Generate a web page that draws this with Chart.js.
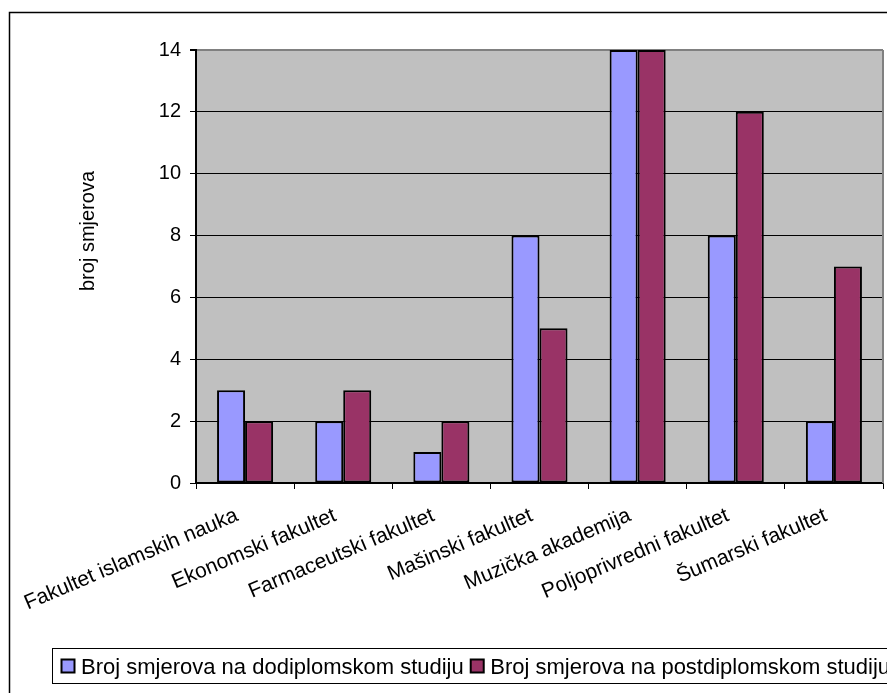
<!DOCTYPE html>
<html>
<head>
<meta charset="utf-8">
<script src="https://cdn.jsdelivr.net/npm/chart.js@4/dist/chart.umd.min.js"></script>
<style>
html,body{margin:0;padding:0;background:#fff;overflow:hidden;}
canvas{display:block;}
</style>
</head>
<body>
<canvas id="c" width="887" height="693"></canvas>
<script>
const categories = [
  "Fakultet islamskih nauka",
  "Ekonomski fakultet",
  "Farmaceutski fakultet",
  "Mašinski fakultet",
  "Muzička akademija",
  "Poljoprivredni fakultet",
  "Šumarski fakultet"
];
const seriesNames = [
  "Broj smjerova na dodiplomskom studiju",
  "Broj smjerova na postdiplomskom studiju"
];
const undergradValues = [3, 2, 1, 8, 14, 8, 2];
const postgradValues = [2, 3, 2, 5, 14, 12, 7];
const yMin = 0, yMax = 14, yStep = 2;
const yTitle = "broj smjerova";

const FONT = "'Liberation Sans', Arial, sans-serif";

const decor = {
  id: 'decor',
  beforeDraw(chart) {
    const ctx = chart.ctx, a = chart.chartArea;
    ctx.save();
    ctx.fillStyle = '#ffffff';
    ctx.fillRect(0, 0, chart.width, chart.height);
    ctx.fillStyle = '#c0c0c0';
    ctx.fillRect(a.left, a.top, a.right - a.left, a.bottom - a.top);
    ctx.restore();
  },
  afterDraw(chart) {
    const ctx = chart.ctx, a = chart.chartArea;
    ctx.save();
    ctx.strokeStyle = '#808080';
    ctx.lineWidth = 2;
    ctx.beginPath();
    ctx.moveTo(a.right, a.top);
    ctx.lineTo(a.right, a.bottom);
    ctx.stroke();
    ctx.strokeStyle = '#000';
    ctx.lineWidth = 1.5;
    ctx.beginPath();
    ctx.moveTo(9.5, chart.height + 5);
    ctx.lineTo(9.5, 12.5);
    ctx.lineTo(chart.width + 5, 12.5);
    ctx.stroke();
    // y axis title
    ctx.save();
    ctx.translate(88, 231);
    ctx.rotate(-Math.PI / 2);
    ctx.font = '20px ' + FONT;
    ctx.fillStyle = '#000';
    ctx.textAlign = 'center';
    ctx.textBaseline = 'middle';
    ctx.fillText(yTitle, 0, 0);
    ctx.restore();
    // legend
    ctx.lineWidth = 1;
    ctx.strokeStyle = '#000';
    ctx.strokeRect(52.5, 648.5, 1000, 35);
    ctx.font = '22px ' + FONT;
    ctx.textBaseline = 'middle';
    ctx.textAlign = 'left';
    let x = 61.5;
    const cy = 666.5;
    chart.data.datasets.forEach(ds => {
      ctx.fillStyle = ds.backgroundColor;
      ctx.fillRect(x, cy - 7, 13, 13);
      ctx.lineWidth = 2;
      ctx.strokeStyle = '#000';
      ctx.strokeRect(x, cy - 7, 13, 13);
      ctx.fillStyle = '#000';
      ctx.fillText(ds.label, x + 19.5, cy + 1);
      x += 19.5 + ctx.measureText(ds.label).width + 7;
    });
    ctx.restore();
  }
};

new Chart(document.getElementById('c'), {
  type: 'bar',
  data: {
    labels: categories,
    datasets: [
      { label: seriesNames[0], data: undergradValues, backgroundColor: '#9999ff',
        borderColor: '#000', borderWidth: 2, borderSkipped: false },
      { label: seriesNames[1], data: postgradValues, backgroundColor: '#993366',
        borderColor: '#000', borderWidth: 2, borderSkipped: false }
    ]
  },
  options: {
    responsive: false,
    animation: false,
    events: [],
    categoryPercentage: 0.571,
    barPercentage: 1,
    layout: { padding: { left: 0, top: 50, right: 4, bottom: 60 } },
    plugins: { legend: { display: false }, tooltip: { enabled: false } },
    scales: {
      x: {
        grid: { offset: true, drawOnChartArea: false, drawTicks: true, tickLength: 6, color: '#000', lineWidth: 1 },
        border: { display: true, color: '#000', width: 1.5 },
        ticks: { color: '#000', font: { family: FONT, size: 21 }, minRotation: 23, maxRotation: 23, autoSkip: false, padding: 14, labelOffset: -8 },
        afterFit(s) { s.height = 150; }
      },
      y: {
        min: yMin, max: yMax,
        ticks: { stepSize: yStep, color: '#000', font: { family: FONT, size: 20 }, padding: 9 },
        grid: { color: ctx => (ctx.tick && ctx.tick.value === yMax) ? '#808080' : '#000',
                lineWidth: ctx => (ctx.tick && ctx.tick.value === yMax) ? 2 : 1,
                tickLength: 6, tickColor: '#000' },
        border: { display: true, color: '#000', width: 2 },
        title: { display: false },
        afterFit(s) { s.width = 196; }
      }
    }
  },
  plugins: [decor]
});
</script>
</body>
</html>
